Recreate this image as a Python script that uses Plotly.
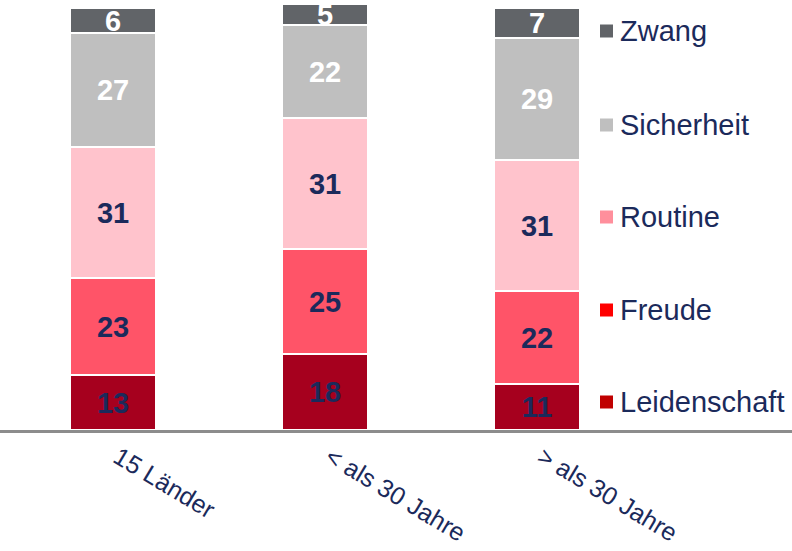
import plotly.graph_objects as go

categories = ["15 Länder", "< als 30 Jahre", "> als 30 Jahre"]
leidenschaft = [13, 18, 11]
freude = [23, 25, 22]
routine = [31, 31, 31]
sicherheit = [27, 22, 29]
zwang = [6, 5, 7]

series = [
    ("Leidenschaft", leidenschaft, "#A6001E", "#C00000", "#1B2A5B"),
    ("Freude", freude, "#FF5468", "#FF0000", "#1B2A5B"),
    ("Routine", routine, "#FFC3CC", "#FF8F9C", "#1B2A5B"),
    ("Sicherheit", sicherheit, "#BFBFBF", "#BFBFBF", "#FFFFFF"),
    ("Zwang", zwang, "#616468", "#616468", "#FFFFFF"),
]

W, H = 792, 551
BASE = 430  # pixel y of baseline
PX_PER_UNIT = 4.22
NAVY = "#1B2A5B"
FONT = "Arial, Liberation Sans, sans-serif"

fig = go.Figure()
for name, vals, color, _, tcolor in series:
    fig.add_trace(go.Bar(
        x=categories, y=vals, name=name,
        marker=dict(color=color, line=dict(color="white", width=2)),
        text=[str(v) for v in vals],
        textposition="inside", insidetextanchor="middle",
        textangle=0, constraintext="none",
        textfont=dict(family=FONT, size=29, color=tcolor, weight="bold"),
        cliponaxis=False,
        width=0.41,
        showlegend=False,
        hoverinfo="skip",
    ))

# custom legend (square + label), top to bottom
legend_y_px = [31, 125, 217, 310, 402]
shapes = []
annotations = []
for (name, _, _, lcolor, _), ypx in zip(reversed(series), legend_y_px):
    yp = (BASE - ypx) / BASE
    shapes.append(dict(type="rect", xref="paper", yref="paper",
                       x0=600 / W, x1=613 / W,
                       y0=yp - 6.5 / BASE, y1=yp + 6.5 / BASE,
                       fillcolor=lcolor, line=dict(width=0)))
    annotations.append(dict(xref="paper", yref="paper", x=618 / W, y=yp,
                            xanchor="left", yanchor="middle", showarrow=False,
                            text=name,
                            font=dict(family=FONT, size=29, color=NAVY)))

fig.update_layout(
    barmode="stack",
    width=W, height=H,
    margin=dict(l=0, r=0, t=0, b=H - BASE, autoexpand=False),
    plot_bgcolor="white", paper_bgcolor="white",
    shapes=shapes, annotations=annotations,
    bargap=0,
    font=dict(family=FONT, color=NAVY),
)
fig.update_xaxes(
    type="category",
    range=[-0.533, 3.203],
    showline=True, linecolor="#8C8C8C", linewidth=3,
    ticks="", tickangle=31,
    ticklabelshift=5, ticklabelstandoff=0,
    tickfont=dict(size=25, color=NAVY),
    showgrid=False, zeroline=False,
)
fig.update_yaxes(
    range=[0, BASE / PX_PER_UNIT],
    visible=False, showgrid=False, zeroline=False,
)

fig.write_html("out.html", config={"displayModeBar": False},
               post_script="document.body.style.margin='0';")
